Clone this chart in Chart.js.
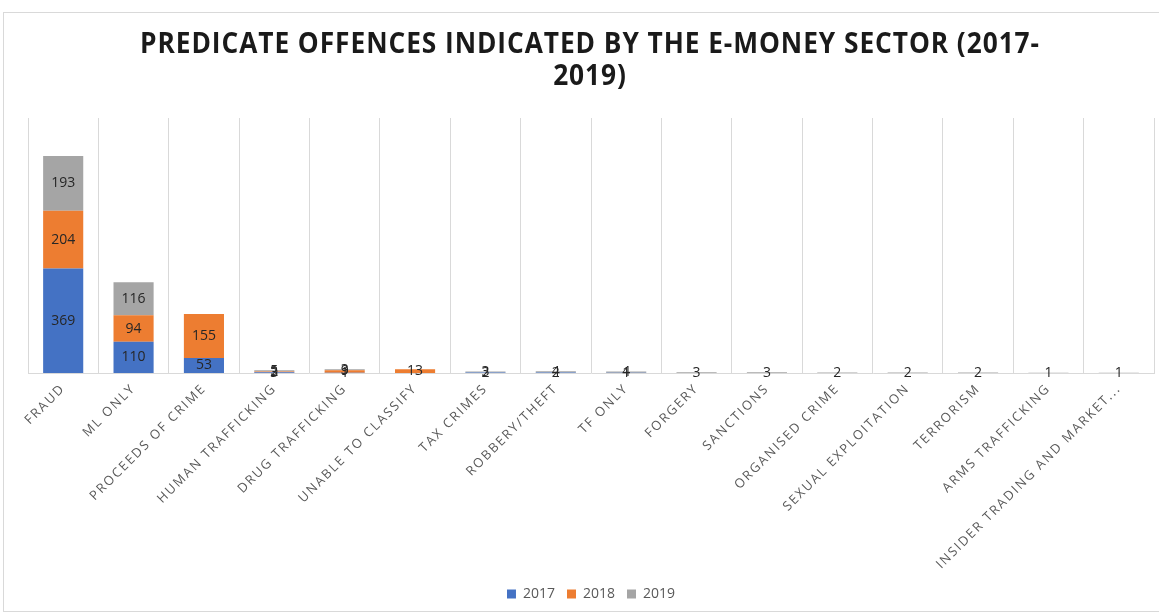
<!DOCTYPE html>
<html>
<head>
<meta charset="utf-8">
<script src="https://cdn.jsdelivr.net/npm/chart.js@4.4.1/dist/chart.umd.min.js"></script>
<style>
  html, body { margin: 0; padding: 0; background: #fff; overflow: hidden; }
  #box {
    position: absolute; left: 3px; top: 12px; width: 1160px; height: 600px;
    border: 1px solid #d9d9d9; box-sizing: border-box; background: #fff;
  }
</style>
</head>
<body>
<div id="box"><canvas id="myChart"></canvas></div>
<script>
// Dados
const categories = [
  "FRAUD", "ML ONLY", "PROCEEDS OF CRIME", "HUMAN TRAFFICKING", "DRUG TRAFFICKING",
  "UNABLE TO CLASSIFY", "TAX CRIMES", "ROBBERY/THEFT", "TF ONLY", "FORGERY",
  "SANCTIONS", "ORGANISED CRIME", "SEXUAL EXPLOITATION", "TERRORISM",
  "ARMS TRAFFICKING", "INSIDER TRADING AND MARKET..."
];
const values2017 = [369, 110, 53, 3, 1, 0, 2, 2, 1, 0, 0, 0, 0, 0, 0, 0];
const values2018 = [204, 94, 155, 2, 9, 13, 0, 0, 0, 0, 0, 0, 0, 0, 0, 0];
const values2019 = [193, 116, 0, 5, 3, 0, 3, 4, 4, 3, 3, 2, 2, 2, 1, 1];
const seriesNames = ["2017", "2018", "2019"];
const titleLines = ["PREDICATE OFFENCES INDICATED BY THE E-MONEY SECTOR (2017-", "2019)"];

const colors = ["#4472C4", "#ED7D31", "#A5A5A5"];

// Título desenhado à mão (fonte condensada, como no Excel)
const titlePlugin = {
  id: 'customTitle',
  afterDraw(chart) {
    const { ctx } = chart;
    ctx.save();
    ctx.font = 'bold 28px "Open Sans", sans-serif';
    ctx.letterSpacing = '1px';
    ctx.fillStyle = '#1a1a1a';
    ctx.textAlign = 'center';
    ctx.textBaseline = 'middle';
    const sx = 900 / ctx.measureText(titleLines[0]).width;
    titleLines.forEach((line, i) => {
      ctx.save();
      ctx.translate(586, 32 + i * 32);
      ctx.scale(sx, 1);
      ctx.fillText(line, 0, 0);
      ctx.restore();
    });
    ctx.restore();
  }
};

// Espaçamento de letras só nos rótulos do eixo X (sem recorte)
const spacedTicks = {
  id: 'spacedTicks',
  beforeDraw(chart) {
    const s = chart.scales.x;
    if (s._spaced) return;
    const orig = s.drawLabels.bind(s);
    s._computeLabelArea = () => undefined;
    s.drawLabels = (area) => {
      chart.ctx.save();
      chart.ctx.letterSpacing = '1.8px';
      orig(area);
      chart.ctx.restore();
    };
    s._spaced = true;
  }
};

// Rótulos de valores no meio de cada segmento
const valueLabels = {
  id: 'valueLabels',
  afterDatasetsDraw(chart) {
    const { ctx } = chart;
    ctx.save();
    ctx.font = '14px "Open Sans", sans-serif';
    ctx.fillStyle = '#262626';
    ctx.textAlign = 'center';
    ctx.textBaseline = 'middle';
    chart.data.datasets.forEach((ds, i) => {
      chart.getDatasetMeta(i).data.forEach((bar, j) => {
        const v = ds.data[j];
        if (!v) return;
        ctx.fillText(String(v), bar.x, (bar.y + bar.base) / 2);
      });
    });
    ctx.restore();
  }
};

const canvas = document.querySelector("#myChart");
canvas.width = 1158;
canvas.height = 598;

new Chart(canvas.getContext('2d'), {
  type: 'bar',
  data: {
    labels: categories,
    datasets: [values2017, values2018, values2019].map((d, i) => ({
      label: seriesNames[i],
      data: d,
      backgroundColor: colors[i],
      borderWidth: 0,
      barPercentage: 1,
      categoryPercentage: 0.57,
    }))
  },
  options: {
    responsive: false,
    animation: false,
    layout: { padding: { left: 24, right: 8, top: 105, bottom: 0 } },
    plugins: {
      title: { display: false },
      legend: {
        position: 'bottom',
        labels: {
          color: '#595959',
          font: { family: '"Open Sans", sans-serif', size: 14 },
          boxWidth: 9, boxHeight: 9, padding: 12
        }
      },
      tooltip: { enabled: false }
    },
    scales: {
      x: {
        stacked: true,
        grid: { display: true, color: '#d9d9d9', drawTicks: false, offset: true },
        border: { color: '#d9d9d9' },
        ticks: {
          minRotation: 45, maxRotation: 45, autoSkip: false, padding: 8,
          color: '#595959',
          font: { family: '"Open Sans", sans-serif', size: 13 }
        },
        afterFit(scale) { scale.height = 202; }
      },
      y: {
        stacked: true,
        display: false,
        min: 0, max: 900
      }
    }
  },
  plugins: [titlePlugin, spacedTicks, valueLabels]
});
</script>
</body>
</html>
